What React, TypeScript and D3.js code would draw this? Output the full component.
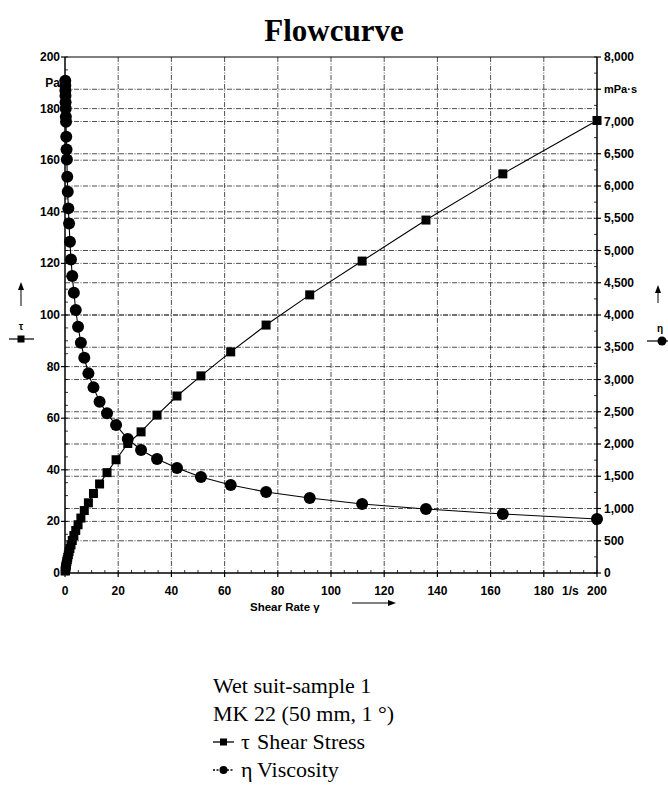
import React from "react";
import * as d3 from "d3";

// ---- data ----
const shearRate = [
  0.1, 0.12, 0.15, 0.18, 0.22, 0.27, 0.32, 0.39, 0.47, 0.58, 0.7, 0.85, 1.03, 1.26, 1.53,
  1.85, 2.25, 2.74, 3.33, 4.04, 4.91, 5.97, 7.25, 8.8, 10.7, 13.0, 15.8, 19.2, 23.6, 28.6,
  34.6, 42.1, 51.1, 62.3, 75.6, 92.0, 111.7, 135.7, 164.6, 200,
];
const shearStress = [
  0.8, 0.9, 1.1, 1.3, 1.6, 1.9, 2.3, 2.7, 3.2, 3.8, 4.5, 5.2, 6.1, 7.1, 8.3,
  9.5, 10.9, 12.6, 14.5, 16.5, 18.7, 21.3, 24.2, 27.2, 30.8, 34.5, 38.9, 43.9, 50.2, 54.7,
  61.2, 68.6, 76.4, 85.7, 96.1, 107.8, 120.9, 136.8, 154.7, 175.4,
];
const viscosity = [
  7630, 7560, 7480, 7400, 7300, 7200, 7072, 6995, 6763, 6567, 6412, 6143, 5910, 5653, 5420,
  5135, 4862, 4604, 4345, 4077, 3818, 3570, 3337, 3095, 2878, 2655, 2475, 2294, 2077, 1907,
  1767, 1628, 1488, 1364, 1256, 1163, 1070, 992, 915, 837,
];
const xTicks = [0, 20, 40, 60, 80, 100, 120, 140, 160, 180, 200];
const yLeftTicks = [0, 20, 40, 60, 80, 100, 120, 140, 160, 180, 200];
const yRightTicks = [0, 500, 1000, 1500, 2000, 2500, 3000, 3500, 4000, 4500, 5000, 5500, 6000, 6500, 7000, 7500, 8000];
const legendLines = ["Wet suit-sample 1", "MK 22 (50 mm, 1 °)"];
const seriesSymbols = ["τ", "η"];
const seriesNames = ["Shear Stress", "Viscosity"];

const W = 668;
const H = 791;
const L = 65, R = 597, T = 57, B = 573;
const SERIF = "'Liberation Serif', 'Times New Roman', serif";

export default function App() {
  const x = d3.scaleLinear().domain([0, 200]).range([L, R]);
  const yL = d3.scaleLinear().domain([0, 200]).range([B, T]);
  const yR = d3.scaleLinear().domain([0, 8000]).range([B, T]);
  const fmt = d3.format(",");

  const pts = shearRate.map((s, i) => ({ s, t: shearStress[i], v: viscosity[i] }));
  const lineT = d3.line<any>().x((d) => x(d.s)).y((d) => yL(d.t));
  const lineV = d3.line<any>().x((d) => x(d.s)).y((d) => yR(d.v));

  const grid = { stroke: "#222", strokeWidth: 0.8, strokeDasharray: "5,1.5,1,1.5" };
  const tickFont = { fontFamily: "'Liberation Sans', Arial, sans-serif", fontWeight: 700, fontSize: 12 };
  const minorX = d3.range(0, 201, 5);
  const minorY = d3.range(0, 201, 5);

  return (
    <div style={{ position: "absolute", left: 0, top: 0 }}>
      <svg width={W} height={H} style={{ display: "block", background: "#fff" }}>
        <text x={334} y={41} textAnchor="middle" fontFamily={SERIF} fontWeight={700} fontSize={31}>
          Flowcurve
        </text>

        {/* grid */}
        {xTicks.slice(1, -1).map((t) => (
          <line key={"gx" + t} x1={x(t)} x2={x(t)} y1={T} y2={B} {...grid} />
        ))}
        {yLeftTicks.slice(1, -1).map((t) => (
          <line key={"gl" + t} x1={L} x2={R} y1={yL(t)} y2={yL(t)} {...grid} />
        ))}
        {yRightTicks.slice(1, -1).map((t) => (
          <line key={"gr" + t} x1={L} x2={R} y1={yR(t)} y2={yR(t)} {...grid} />
        ))}

        {/* axes frame */}
        <line x1={L} x2={L} y1={T} y2={B} stroke="#000" strokeWidth={1.5} />
        <line x1={R} x2={R} y1={T} y2={B} stroke="#000" strokeWidth={1.5} />
        <line x1={L} x2={R} y1={B} y2={B} stroke="#000" strokeWidth={1.5} />
        <line x1={L} x2={R} y1={T} y2={T} stroke="#000" strokeWidth={1.2} />

        {/* minor ticks */}
        {minorX.map((t) => (
          <line key={"mx" + t} x1={x(t)} x2={x(t)} y1={B} y2={B - 3} stroke="#000" strokeWidth={0.8} />
        ))}
        {minorY.map((t) => (
          <line key={"my" + t} x1={L} x2={L + 3} y1={yL(t)} y2={yL(t)} stroke="#000" strokeWidth={0.8} />
        ))}
        {d3.range(0, 8001, 250).map((t) => (
          <line key={"mr" + t} x1={R} x2={R - 3} y1={yR(t)} y2={yR(t)} stroke="#000" strokeWidth={0.8} />
        ))}

        {/* major ticks + labels */}
        {xTicks.map((t) => (
          <g key={"xt" + t}>
            <line x1={x(t)} x2={x(t)} y1={B} y2={B + 4} stroke="#000" strokeWidth={1.2} />
            <text x={x(t)} y={B + 22} textAnchor="middle" {...tickFont}>{t}</text>
          </g>
        ))}
        <text x={x(190)} y={B + 22} textAnchor="middle" {...tickFont}>1/s</text>
        {yLeftTicks.map((t) => (
          <g key={"yl" + t}>
            <line x1={L - 4} x2={L} y1={yL(t)} y2={yL(t)} stroke="#000" strokeWidth={1.2} />
            <text x={L - 5} y={yL(t) + 4} textAnchor="end" {...tickFont}>{t}</text>
          </g>
        ))}
        <text x={L - 5} y={yL(190) + 4} textAnchor="end" {...tickFont}>Pa</text>
        {yRightTicks.filter((t) => t !== 7500).map((t) => (
          <g key={"yr" + t}>
            <line x1={R} x2={R + 4} y1={yR(t)} y2={yR(t)} stroke="#000" strokeWidth={1.2} />
            <text x={R + 7} y={yR(t) + 4} textAnchor="start" {...tickFont}>{fmt(t)}</text>
          </g>
        ))}
        <line x1={R} x2={R + 4} y1={yR(7500)} y2={yR(7500)} stroke="#000" strokeWidth={1.2} />
        <text x={R + 7} y={yR(7500) + 4} textAnchor="start" {...tickFont} fontSize={11}>mPa·s</text>

        {/* axis titles */}
        <text x={250} y={611} {...tickFont} fontSize={11.5}>Shear Rate γ</text>
        <line x1={352} x2={390} y1={603} y2={603} stroke="#000" strokeWidth={1} />
        <path d="M388,600 L396,603 L388,606 Z" fill="#000" />

        <line x1={21} x2={21} y1={306} y2={288} stroke="#000" strokeWidth={1} />
        <path d="M18,290 L21,282 L24,290 Z" fill="#000" />
        <text x={21} y={330} textAnchor="middle" {...tickFont} fontSize={10}>τ</text>
        <line x1={9} x2={34} y1={339} y2={339} stroke="#000" strokeWidth={1.2} />
        <rect x={17.5} y={335.5} width={7} height={7} fill="#000" />

        <line x1={658} x2={658} y1={303} y2={291} stroke="#000" strokeWidth={1} />
        <path d="M655,293 L658,285 L661,293 Z" fill="#000" />
        <text x={660} y={332} textAnchor="middle" {...tickFont} fontSize={10}>η</text>
        <line x1={647} x2={668} y1={341} y2={341} stroke="#000" strokeWidth={1.2} />
        <circle cx={662} cy={341} r={4.5} fill="#000" />

        {/* series */}
        <path d={lineT(pts) || ""} fill="none" stroke="#000" strokeWidth={1.1} />
        <path d={lineV(pts) || ""} fill="none" stroke="#000" strokeWidth={1.1} />
        {pts.map((d, i) => (
          <rect key={"s" + i} x={x(d.s) - 4.5} y={yL(d.t) - 4.5} width={9} height={9} fill="#000" />
        ))}
        {pts.map((d, i) => (
          <circle key={"c" + i} cx={x(d.s)} cy={yR(d.v)} r={6} fill="#000" />
        ))}

        {/* legend */}
        {legendLines.map((s, i) => (
          <text key={"lg" + i} x={213} y={693 + i * 28} fontFamily={SERIF} fontSize={22}>{s}</text>
        ))}
        <line x1={213} x2={234} y1={742} y2={742} stroke="#000" strokeWidth={1.3} />
        <rect x={220} y={738.5} width={7} height={7} fill="#000" />
        <text x={241} y={749} fontFamily={SERIF} fontSize={22}>{seriesSymbols[0]}</text>
        <text x={257} y={749} fontFamily={SERIF} fontSize={22}>{seriesNames[0]}</text>
        <line x1={213} x2={234} y1={770} y2={770} stroke="#000" strokeWidth={1.3} strokeDasharray="2,1.5" />
        <circle cx={223.5} cy={770} r={4} fill="#000" />
        <text x={241} y={777} fontFamily={SERIF} fontSize={22}>{seriesSymbols[1]}</text>
        <text x={257} y={777} fontFamily={SERIF} fontSize={22}>{seriesNames[1]}</text>
      </svg>
    </div>
  );
}
